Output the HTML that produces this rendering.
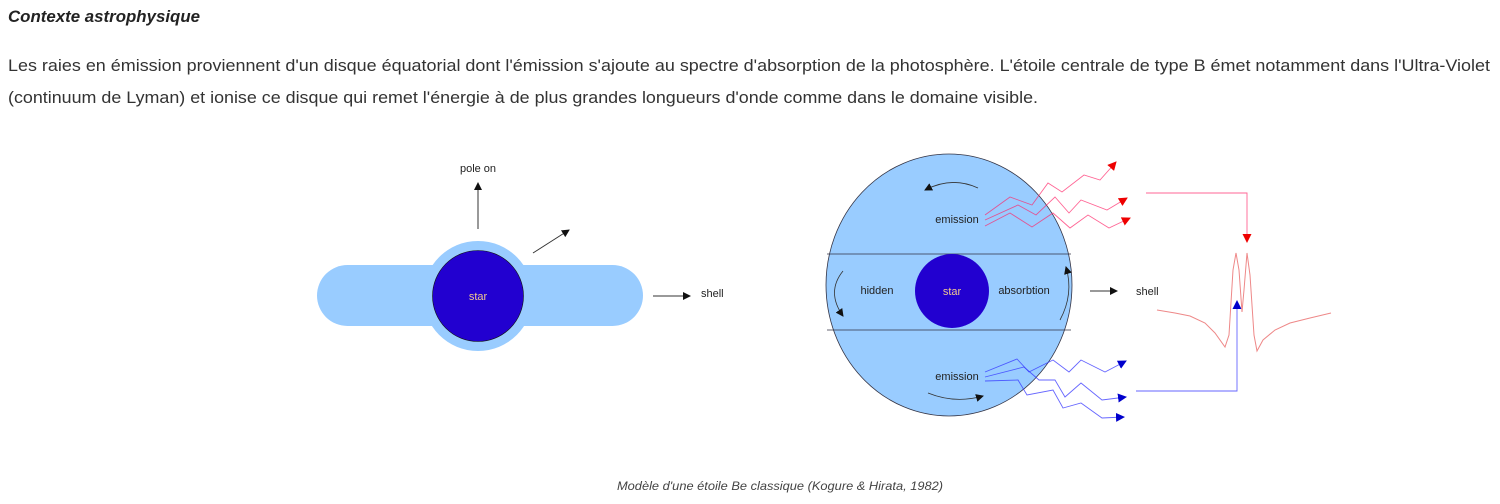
<!DOCTYPE html>
<html><head><meta charset="utf-8"><style>
html,body{margin:0;padding:0;background:#fff;}
svg{display:block;font-family:"Liberation Sans",sans-serif;}
</style></head><body>
<svg width="1500" height="504" viewBox="0 0 1500 504" xmlns="http://www.w3.org/2000/svg">
<defs>
<marker id="ak" markerWidth="8" markerHeight="8" refX="7" refY="4" orient="auto" markerUnits="userSpaceOnUse"><path d="M0,0 L8,4 L0,8 z" fill="#111"/></marker>
<marker id="ar" markerWidth="9" markerHeight="9" refX="8" refY="4.5" orient="auto" markerUnits="userSpaceOnUse"><path d="M0,0 L9,4.5 L0,9 z" fill="#e00"/></marker>
<marker id="ab" markerWidth="9" markerHeight="9" refX="8" refY="4.5" orient="auto" markerUnits="userSpaceOnUse"><path d="M0,0 L9,4.5 L0,9 z" fill="#00c"/></marker>
</defs>
<text x="8" y="22" font-size="17" font-style="italic" font-weight="bold" fill="#222" textLength="192" lengthAdjust="spacingAndGlyphs">Contexte astrophysique</text>
<text x="8" y="71" font-size="17" fill="#333" textLength="1482" lengthAdjust="spacingAndGlyphs">Les raies en émission proviennent d'un disque équatorial dont l'émission s'ajoute au spectre d'absorption de la photosphère. L'étoile centrale de type B émet notamment dans l'Ultra-Violet</text>
<text x="8" y="103" font-size="17" fill="#333" textLength="1030" lengthAdjust="spacingAndGlyphs">(continuum de Lyman) et ionise ce disque qui remet l'énergie à de plus grandes longueurs d'onde comme dans le domaine visible.</text>

<!-- left diagram -->
<rect x="317" y="265" width="326" height="61" rx="30.5" fill="#99ccff"/>
<circle cx="478" cy="296" r="55" fill="#99ccff"/>
<circle cx="478" cy="296" r="45.5" fill="#2200d0" stroke="#111" stroke-width="0.6"/>
<text x="478" y="300" font-size="11" fill="#f0c890" text-anchor="middle">star</text>
<line x1="478" y1="229" x2="478" y2="183" stroke="#333" stroke-width="1" marker-end="url(#ak)"/>
<text x="478" y="172" font-size="11" fill="#222" text-anchor="middle">pole on</text>
<line x1="533" y1="253" x2="569" y2="230" stroke="#333" stroke-width="1" marker-end="url(#ak)"/>
<line x1="653" y1="296" x2="690" y2="296" stroke="#333" stroke-width="1" marker-end="url(#ak)"/>
<text x="701" y="297" font-size="11" fill="#222">shell</text>

<!-- right diagram -->
<ellipse cx="949" cy="285" rx="123" ry="131" fill="#99ccff" stroke="#334" stroke-width="0.8"/>
<line x1="827" y1="254" x2="1071" y2="254" stroke="#334" stroke-width="0.8"/>
<line x1="827" y1="330" x2="1071" y2="330" stroke="#334" stroke-width="0.8"/>
<circle cx="952" cy="291" r="37" fill="#2200d0"/>
<text x="952" y="295" font-size="11" fill="#f0c890" text-anchor="middle">star</text>
<text x="957" y="223" font-size="11" fill="#222" text-anchor="middle">emission</text>
<text x="957" y="380" font-size="11" fill="#222" text-anchor="middle">emission</text>
<text x="877" y="294" font-size="11" fill="#222" text-anchor="middle">hidden</text>
<text x="1024" y="294" font-size="11" fill="#222" text-anchor="middle">absorbtion</text>
<path d="M978,188 Q952,176 925,190" fill="none" stroke="#333" stroke-width="0.8" marker-end="url(#ak)"/>
<path d="M928,393 Q955,404 983,396" fill="none" stroke="#333" stroke-width="0.8" marker-end="url(#ak)"/>
<path d="M843,271 Q826,292 843,316" fill="none" stroke="#333" stroke-width="0.8" marker-end="url(#ak)"/>
<path d="M1060,320 Q1074,294 1066,267" fill="none" stroke="#333" stroke-width="0.8" marker-end="url(#ak)"/>
<line x1="1090" y1="291" x2="1117" y2="291" stroke="#333" stroke-width="1" marker-end="url(#ak)"/>
<text x="1136" y="295" font-size="11" fill="#222">shell</text>

<g fill="none" stroke="#f26" stroke-opacity="0.7" stroke-width="0.9">
<polyline points="985,215 1010,197 1032,205 1048,183 1062,192 1084,175 1100,180 1116,162" marker-end="url(#ar)"/>
<polyline points="985,220 1018,205 1036,215 1055,197 1069,213 1081,200 1107,210 1127,198" marker-end="url(#ar)"/>
<polyline points="985,226 1010,213 1032,227 1053,213 1070,228 1088,215 1109,228 1130,218" marker-end="url(#ar)"/>
<polyline points="1146,193 1247,193 1247,242" marker-end="url(#ar)"/>
</g>
<g fill="none" stroke="#33f" stroke-opacity="0.75" stroke-width="0.9">
<polyline points="985,372 1017,359 1029,372 1053,360 1069,372 1081,360 1105,372 1126,361" marker-end="url(#ab)"/>
<polyline points="985,377 1024,367 1039,380 1055,380 1065,397 1081,383 1102,400 1126,397" marker-end="url(#ab)"/>
<polyline points="985,381 1018,380 1027,395 1053,390 1063,408 1081,403 1102,418 1124,417" marker-end="url(#ab)"/>
<polyline points="1136,391 1237,391 1237,301" marker-end="url(#ab)"/>
</g>
<path d="M1157,310 L1175,313 L1190,316 L1205,323 L1215,333 L1225,347 L1229,335 L1233,270 L1236,253 L1239,270 L1242,312 L1244,290 L1247,253 L1250,275 L1254,335 L1257,351 L1263,340 L1275,330 L1290,323 L1310,318 L1331,313" fill="none" stroke="#e88" stroke-width="1"/>

<text x="780" y="490" font-size="12" font-style="italic" fill="#444" text-anchor="middle" textLength="326" lengthAdjust="spacingAndGlyphs">Modèle d'une étoile Be classique (Kogure &amp; Hirata, 1982)</text>
</svg>
</body></html>
